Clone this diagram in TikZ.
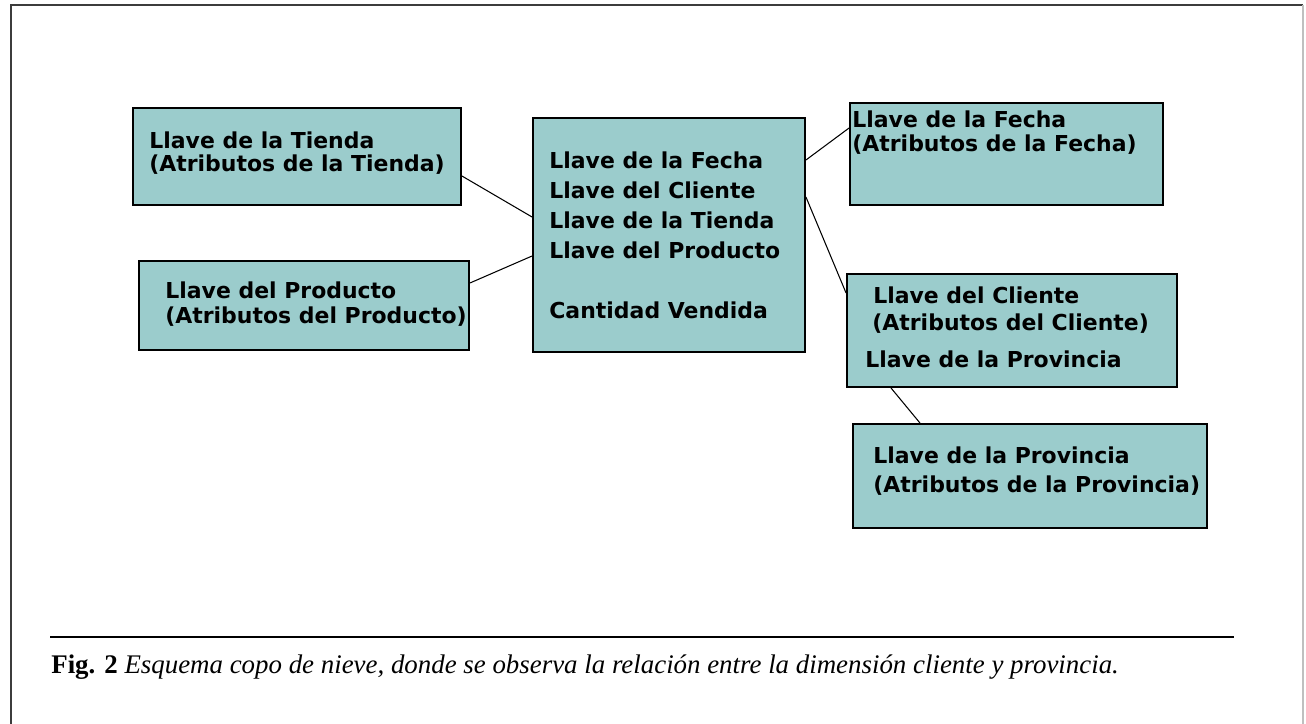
\documentclass[tikz,border=0pt]{standalone}
\usepackage{fontspec}
\setmainfont{Liberation Serif}
\newfontfamily\cajafont{DejaVu Sans}
\definecolor{celeste}{RGB}{155,204,204}
\definecolor{marco}{RGB}{60,60,60}

\tikzset{
	caja/.style={draw=black,line width=1.1pt,fill=celeste,inner sep=0pt},
	texto/.style={font=\cajafont\bfseries\fontsize{12.5}{13.6}\selectfont,align=left,inner sep=0pt,anchor=base west},
	enlace/.style={line width=0.6pt}
}

\begin{document}
\begin{tikzpicture}[x=0.02cm,y=-0.02cm]
	\useasboundingbox (0,0) rectangle (1306,724);
	% marco de la figura
	\draw[marco,line width=1.7pt] (11,724) -- (11,5) -- (1303,5);
	\draw[gray!50,line width=0.8pt] (1303,5) -- (1303,724);

	% tablas
	\node[caja,minimum width=6.56cm,minimum height=1.94cm] (tienda) at (297,156.5) {};
	\node[caja,minimum width=6.6cm,minimum height=1.78cm] (producto) at (304,305.5) {};
	\node[caja,minimum width=5.44cm,minimum height=4.68cm] (hecho) at (669,235) {};
	\node[caja,minimum width=6.26cm,minimum height=2.04cm] (fecha) at (1006.5,154) {};
	\node[caja,minimum width=6.6cm,minimum height=2.26cm] (cliente) at (1012,330.5) {};
	\node[caja,minimum width=7.08cm,minimum height=2.08cm] (provincia) at (1030,476) {};

	% textos (anclados en la linea base de su ultima linea)
	\node[texto] (tienda-txt) at (149,171) {Llave de la Tienda\\[-0.6pt](Atributos de la Tienda)};
	\node[texto] (producto-txt) at (165,323) {Llave del Producto\\[0.6pt](Atributos del Producto)};
	\node[texto] (hecho-txt) at (549,318) {Llave de la Fecha\\[3.4pt]Llave del Cliente\\[3.4pt]Llave de la Tienda\\[3.4pt]Llave del Producto\\[20.4pt]Cantidad Vendida};
	\node[texto] (fecha-txt) at (852,151) {Llave de la Fecha\\(Atributos de la Fecha)};
	\node[texto] (cliente-txt) at (865,367) {\hspace*{4.5pt}Llave del Cliente\\[1.7pt]\hspace*{4pt}(Atributos del Cliente)\\[7.4pt]Llave de la Provincia};
	\node[texto] (provincia-txt) at (873,492) {Llave de la Provincia\\[2.8pt](Atributos de la Provincia)};

	% relaciones
	\draw[enlace] ([shift={(0,19.5)}]tienda.east) -- ([shift={(0,-18)}]hecho.west);
	\draw[enlace] ([shift={(0,-22.5)}]producto.east) -- ([shift={(0,21)}]hecho.west);
	\draw[enlace] ([shift={(0,-75)}]hecho.east) -- ([shift={(0,-26)}]fecha.west);
	\draw[enlace] ([shift={(0,-38)}]hecho.east) -- ([shift={(0,-37.5)}]cliente.west);
	\draw[enlace] ([shift={(-121,0)}]cliente.south) -- ([shift={(-110,0)}]provincia.north);

	% pie de figura
	\draw[line width=0.8pt] (50,637) coordinate (raya-a) -- (1234,637) coordinate (raya-b);
	\node[anchor=base west,inner sep=0pt,font=\fontsize{15.3}{18}\selectfont] (pie) at (51,673)
		{\textbf{Fig. 2} \textit{Esquema copo de nieve, donde se observa la relación entre la dimensión cliente y provincia.}};
\end{tikzpicture}
\end{document}
